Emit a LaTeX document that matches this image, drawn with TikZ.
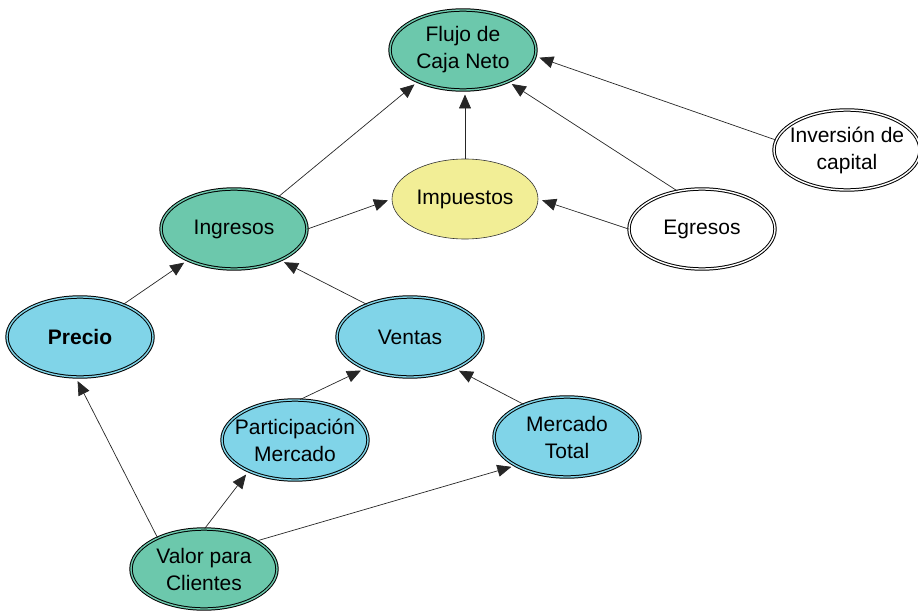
\documentclass[tikz,border=0pt]{standalone}
\usepackage{fontspec}
\setmainfont{Liberation Sans}
\usetikzlibrary{shapes.geometric,arrows.meta}
\definecolor{tealc}{HTML}{6CC8AC}
\definecolor{bluec}{HTML}{80D4E8}
\definecolor{yelc}{HTML}{F2EE96}
\newcommand{\fxw}[1]{\makebox[90pt][c]{#1}}
\tikzset{
  ell/.style={ellipse, inner sep=0pt, align=center, font=\fontsize{21}{27}\selectfont,
    minimum width=146pt, minimum height=80pt},
  dbl/.style={ell, draw=black, line width=1pt, double=#1, double distance=1.4pt, fill=#1},
  sgl/.style={ell, draw=black!80, line width=0.6pt, fill=#1},
  arr/.style={draw=black!85, line width=0.7pt, -{Triangle[length=14pt,width=12pt]}, shorten >=4pt}
}
\begin{document}
\begin{tikzpicture}[x=1pt,y=-1pt]
\useasboundingbox (0,0) rectangle (918,615);
\node[dbl=tealc] (flujo) at (463,50) {Flujo de\\Caja Neto};
\node[dbl=white] (inv) at (847,150) {\fxw{Inversión de}\\capital};
\node[dbl=white] (egr) at (702,229) {Egresos};
\node[sgl=yelc] (imp) at (465,199) {Impuestos};
\node[dbl=tealc] (ing) at (234,229) {Ingresos};
\node[dbl=bluec] (pre) at (80,337) {\bfseries Precio};
\node[dbl=bluec] (ven) at (410,337) {Ventas};
\node[dbl=bluec] (par) at (295,440) {\fxw{Participación}\\Mercado};
\node[dbl=bluec] (mt) at (567,437) {Mercado\\Total};
\node[dbl=tealc] (val) at (204,569) {Valor para\\Clientes};

\draw[arr] (ing.36) -- (flujo.215);
\draw[arr] (imp.north) -- (imp.north |- flujo.south);
\draw[arr] (egr.123) -- (flujo.325);
\draw[arr] (inv.172) -- (flujo.355);
\draw[arr] (egr.west) -- (imp.east);
\draw[arr] (ing.east) -- (imp.west);
\draw[arr] (pre.37) -- (ing.214);
\draw[arr] (ven.143) -- (ing.326);
\draw[arr] (par.83) -- (ven.215);
\draw[arr] (mt.143) -- (ven.325);
\draw[arr] (val.146) -- (pre.264);
\draw[arr] (val.89) -- (par.214);
\draw[arr] (val.28) -- (mt.209);
\end{tikzpicture}
\end{document}
